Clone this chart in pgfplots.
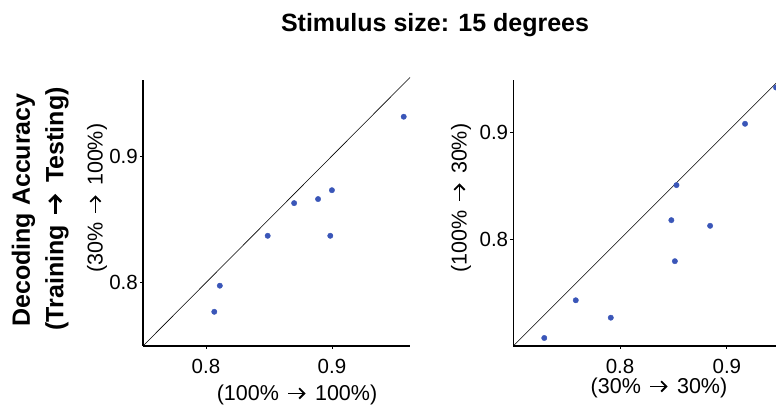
\documentclass[border=0pt]{standalone}
\usepackage{pgfplots}
\pgfplotsset{compat=1.18}
\usetikzlibrary{arrows.meta}
\usepackage{fontspec}
\setmainfont{Liberation Sans}
\definecolor{dotblue}{RGB}{58,86,184}
\newcommand{\arr}[1][0.085em]{\hspace{0.12em}\tikz[baseline=0pt]\draw[line width=#1, -{Straight Barb[length=0.24em, width=0.48em, line width=#1]}] (0,0.33em) -- (0.8em,0.33em);\hspace{0.12em}}
\begin{document}
\begin{tikzpicture}[x=1pt,y=1pt]
\useasboundingbox (0,0) rectangle (776,406);
\pgfplotsset{
  myax/.style={
    scale only axis,
    anchor=south west,
    axis lines=left,
    axis line style={line width=1.4pt, -},
    tick style={black, line width=0.8pt, overlay},
    major tick length=3pt,
    tick align=outside,
    clip=false,
    font=\fontsize{20.5}{24}\selectfont,
    /pgf/number format/assume math mode=true,
    /pgf/number format/fixed,
    /pgf/number format/precision=1,
    xticklabel style={overlay, inner sep=0pt, anchor=north, yshift=-10pt},
    yticklabel style={overlay, inner sep=0pt, anchor=east, xshift=-2pt},
  },
  dots/.style={only marks, mark=*, mark size=2.7pt, color=dotblue},
}
\begin{axis}[myax, at={(143pt,60pt)}, width=267pt, height=266pt,
  xmin=0.75, xmax=0.962, ymin=0.75, ymax=0.96,
  xtick={0.8,0.9}, ytick={0.8,0.9}]
\addplot[black, line width=0.6pt] coordinates {(0.75,0.75) (0.962,0.962)};
\addplot[dots] coordinates {
(0.8066,0.777) (0.811,0.7976) (0.849,0.837) (0.870,0.8628)
(0.889,0.866) (0.900,0.873) (0.8987,0.837) (0.957,0.931)};
\end{axis}
\begin{axis}[myax, at={(513.3pt,60pt)}, width=262.7pt, height=266pt,
  xmin=0.70, xmax=0.946, ymin=0.70, ymax=0.949,
  xtick={0.8,0.9}, ytick={0.8,0.9}]
\addplot[black, line width=0.6pt] coordinates {(0.70,0.70) (0.95,0.95)};
\addplot[dots] coordinates {
(0.729,0.7075) (0.7585,0.7428) (0.7913,0.7265) (0.848,0.8178)
(0.8528,0.8506) (0.8513,0.7794) (0.8843,0.8125) (0.917,0.908) (0.946,0.942)};
\end{axis}
\node[font=\fontsize{25}{30}\selectfont\bfseries] at (435,381) {Stimulus size: 15 degrees};
\node[rotate=90, font=\fontsize{25}{30}\selectfont\bfseries] at (23.5,196) {Decoding Accuracy};
\node[rotate=90, font=\fontsize{25}{30}\selectfont\bfseries] at (57,197) {(Training \arr[0.11em] Testing)};
\node[rotate=90, font=\fontsize{21.5}{26}\selectfont] at (97,208) {(30\% \arr{} 100\%)};
\node[font=\fontsize{21.5}{26}\selectfont] at (297,11) {(100\% \arr{} 100\%)};
\node[rotate=90, font=\fontsize{21.5}{26}\selectfont] at (461,208) {(100\% \arr{} 30\%)};
\node[font=\fontsize{21.5}{26}\selectfont] at (659,18) {(30\% \arr{} 30\%)};
\end{tikzpicture}
\end{document}
